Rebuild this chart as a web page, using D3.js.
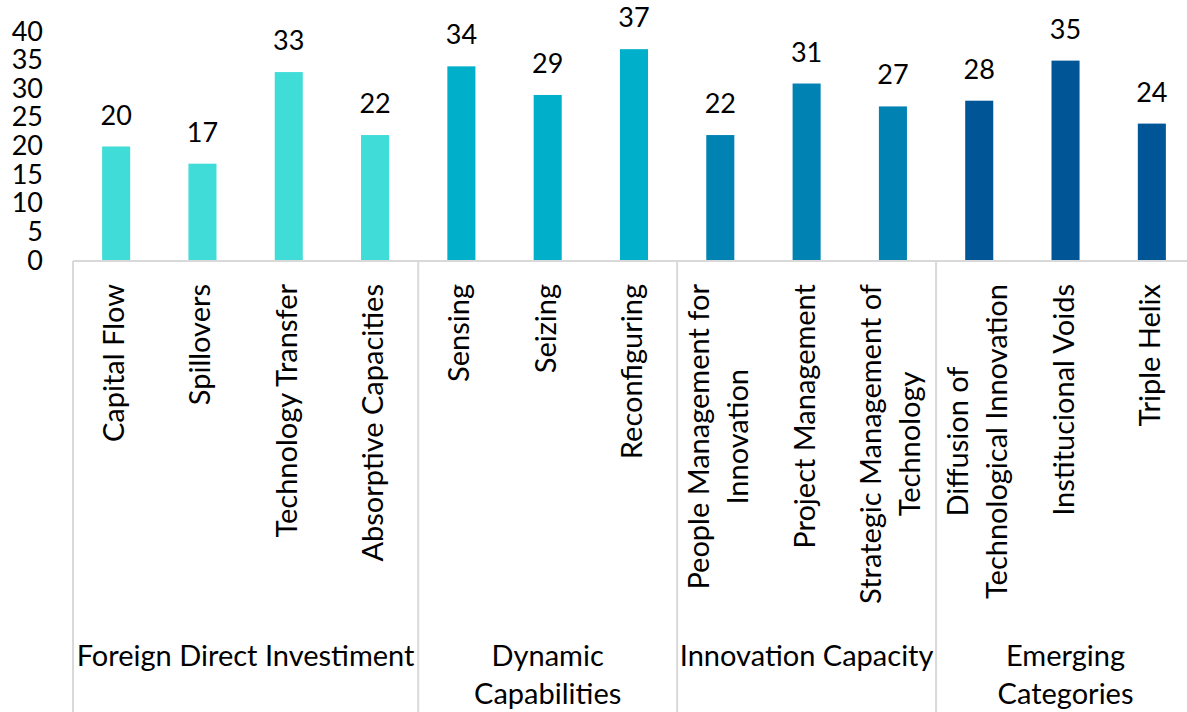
<!DOCTYPE html>
<html>
<head>
<meta charset="utf-8">
<script src="https://cdn.jsdelivr.net/npm/d3@7"></script>
<style>
  html, body { margin: 0; padding: 0; background: #ffffff; }
  svg { display: block; }
  text { font-family: Lato, "Open Sans", sans-serif; fill: #000; }
</style>
</head>
<body>
<svg id="chart" width="1187" height="712"></svg>
<script>
// ---- data ----
const categories = [
  "Capital Flow", "Spillovers", "Technology Transfer", "Absorptive Capacities",
  "Sensing", "Seizing", "Reconfiguring",
  "People Management for Innovation", "Project Management", "Strategic Management of Technology",
  "Diffusion of Technological Innovation", "Institucional Voids", "Triple Helix"
];
const categoryLines = [
  ["Capital Flow"], ["Spillovers"], ["Technology Transfer"], ["Absorptive Capacities"],
  ["Sensing"], ["Seizing"], ["Reconfiguring"],
  ["People Management for", "Innovation"], ["Project Management"], ["Strategic Management of", "Technology"],
  ["Diffusion of", "Technological Innovation"], ["Institucional Voids"], ["Triple Helix"]
];
const values = [20, 17, 33, 22, 34, 29, 37, 22, 31, 27, 28, 35, 24];
const groupNames = ["Foreign Direct Investiment", "Dynamic Capabilities", "Innovation Capacity", "Emerging Categories"];
const groupLines = [["Foreign Direct Investiment"], ["Dynamic", "Capabilities"], ["Innovation Capacity"], ["Emerging", "Categories"]];
const groupSizes = [4, 3, 3, 3];
const groupColors = ["#40dcd8", "#00afc9", "#0082b3", "#005596"];
const yTicks = [0, 5, 10, 15, 20, 25, 30, 35, 40];

// ---- layout ----
const W = 1187, H = 712;
const plotLeft = 73, plotRight = 1195, plotBase = 261, plotTop = 32;
const fontSize = 29, numSize = 27;

const svg = d3.select("#chart");

const groupIndex = [];
groupSizes.forEach((n, g) => { for (let k = 0; k < n; k++) groupIndex.push(g); });

const x = d3.scaleBand().domain(categories).range([plotLeft, plotRight])
  .paddingInner(0.675).paddingOuter(0.3375);
const y = d3.scaleLinear().domain([0, 40]).range([plotBase, plotTop]);

// y axis (labels only)
const yAxis = svg.append("g").attr("transform", `translate(${plotLeft},0)`)
  .call(d3.axisLeft(y).tickValues(yTicks).tickSize(0).tickPadding(30).tickFormat(d3.format("d")));
yAxis.select(".domain").remove();
yAxis.selectAll("text")
  .style("font-family", "Lato, 'Open Sans', sans-serif")
  .style("font-size", numSize + "px")
  .attr("fill", "#000")
  .attr("dy", "0.3em");

// bars
svg.append("g").selectAll("rect").data(categories).join("rect")
  .attr("x", d => x(d))
  .attr("width", x.bandwidth())
  .attr("y", (d, i) => y(values[i]))
  .attr("height", (d, i) => y(0) - y(values[i]))
  .attr("fill", (d, i) => groupColors[groupIndex[i]]);

// value labels
svg.append("g").selectAll("text").data(categories).join("text")
  .attr("x", d => x(d) + x.bandwidth() / 2)
  .attr("y", (d, i) => y(values[i]) - 22)
  .attr("text-anchor", "middle")
  .style("font-size", numSize + "px")
  .text((d, i) => values[i]);

// axis line and group separators
const step = x.step();
const edge = i => x(categories[i]) - step * x.paddingInner() / 2;
svg.append("line")
  .attr("x1", plotLeft).attr("x2", plotRight).attr("y1", plotBase).attr("y2", plotBase)
  .attr("stroke", "#d9d9d9").attr("stroke-width", 2);

const bounds = [0];
groupSizes.reduce((acc, n) => { bounds.push(acc + n); return acc + n; }, 0);
const boundX = bounds.map(b => b < categories.length ? edge(b) : plotRight);
svg.append("g").selectAll("line").data(boundX.slice(0, -1)).join("line")
  .attr("x1", d => d).attr("x2", d => d)
  .attr("y1", plotBase).attr("y2", H)
  .attr("stroke", "#d9d9d9").attr("stroke-width", 2);

// rotated category labels
const labelTop = 284, linePitch = 39;
categories.forEach((c, i) => {
  const cx = x(c) + x.bandwidth() / 2;
  const lines = categoryLines[i];
  const t = svg.append("text")
    .attr("transform", `translate(${cx},0) rotate(-90)`)
    .attr("text-anchor", "middle")
    .style("font-size", fontSize + "px");
  const spans = lines.map((ln, k) => t.append("tspan")
    .attr("y", 8 + (k - (lines.length - 1) / 2) * linePitch)
    .text(ln));
  const maxLen = d3.max(spans, s => s.node().getComputedTextLength());
  spans.forEach(s => s.attr("x", -(labelTop + maxLen / 2)));
});

// group labels
groupLines.forEach((lines, g) => {
  const gx = (boundX[g] + boundX[g + 1]) / 2;
  const t = svg.append("text")
    .attr("text-anchor", "middle")
    .style("font-size", fontSize + "px");
  lines.forEach((ln, k) => t.append("tspan")
    .attr("x", gx).attr("y", 666 + k * 38).text(ln));
});
</script>
</body>
</html>
